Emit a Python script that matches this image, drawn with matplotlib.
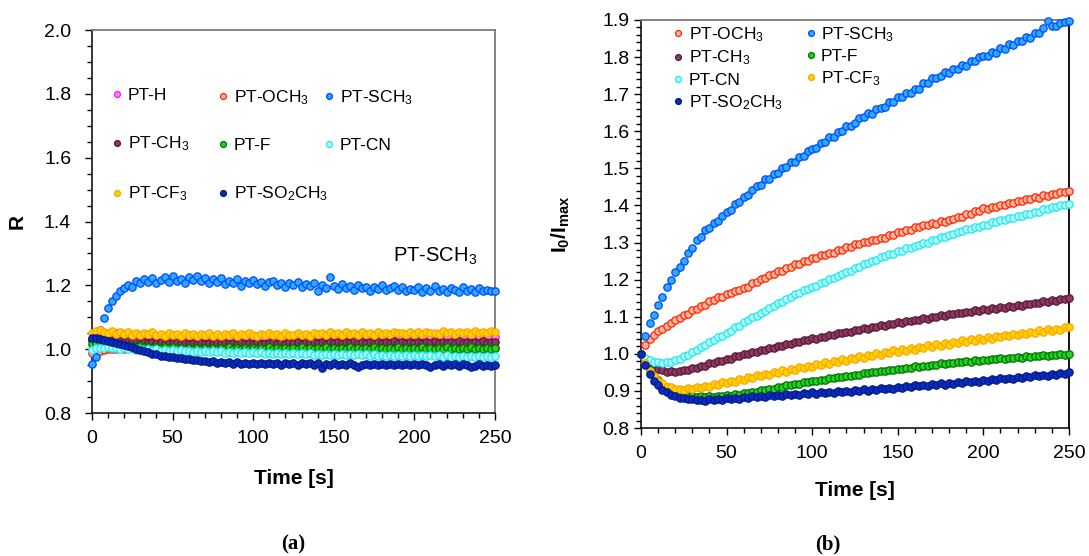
import numpy as np
import matplotlib
matplotlib.use("Agg")
import matplotlib.pyplot as plt
from matplotlib.legend import Legend
from matplotlib.ticker import MultipleLocator, FormatStrFormatter

plt.rcParams["font.family"] = ["Liberation Sans", "DejaVu Sans"]
plt.rcParams["mathtext.fontset"] = "custom"
plt.rcParams["mathtext.rm"] = "Liberation Sans"
plt.rcParams["mathtext.it"] = "Liberation Sans:italic"
plt.rcParams["mathtext.bf"] = "Liberation Sans:bold"

# sampling times, 2.5 s apart
time_s = np.arange(0, 250.01, 2.5)

# ---------------- (a) ratio R ----------------
r_h = [1.030, 1.036, 1.040, 1.043, 1.046, 1.049, 1.051, 1.050, 1.048, 1.046,
       1.044, 1.041, 1.043, 1.039, 1.042, 1.038, 1.041, 1.037, 1.040, 1.036,
       1.039, 1.035, 1.038, 1.034, 1.037, 1.033, 1.036, 1.034, 1.037, 1.033,
       1.036, 1.032, 1.035, 1.033, 1.036, 1.032, 1.035, 1.031, 1.034, 1.032,
       1.035, 1.031, 1.034, 1.032, 1.035, 1.031, 1.034, 1.032, 1.035, 1.031,
       1.034, 1.032, 1.035, 1.031, 1.034, 1.032, 1.036, 1.032, 1.035, 1.033,
       1.036, 1.032, 1.035, 1.033, 1.036, 1.032, 1.035, 1.034, 1.037, 1.033,
       1.036, 1.034, 1.037, 1.033, 1.036, 1.034, 1.037, 1.035, 1.038, 1.034,
       1.037, 1.035, 1.038, 1.034, 1.037, 1.035, 1.038, 1.036, 1.039, 1.035,
       1.038, 1.036, 1.039, 1.035, 1.038, 1.036, 1.039, 1.037, 1.040, 1.036,
       1.038]
r_och3 = [0.988, 0.992, 0.996, 0.998, 1.000, 1.002, 1.001, 1.003, 1.002, 1.004,
          1.003, 1.005, 1.004, 1.006, 1.003, 1.005, 1.004, 1.006, 1.003, 1.005,
          1.004, 1.006, 1.003, 1.005, 1.004, 1.006, 1.003, 1.005, 1.004, 1.006,
          1.005, 1.003, 1.006, 1.004, 1.005, 1.003, 1.006, 1.004, 1.005, 1.003,
          1.006, 1.004, 1.005, 1.003, 1.006, 1.004, 1.005, 1.003, 1.006, 1.004,
          1.005, 1.003, 1.006, 1.004, 1.005, 1.003, 1.006, 1.004, 1.005, 1.003,
          1.006, 1.004, 1.005, 1.003, 1.006, 1.004, 1.005, 1.003, 1.006, 1.004,
          1.005, 1.003, 1.006, 1.004, 1.005, 1.003, 1.006, 1.004, 1.005, 1.003,
          1.006, 1.004, 1.005, 1.003, 1.006, 1.004, 1.005, 1.003, 1.006, 1.004,
          1.005, 1.003, 1.006, 1.004, 1.005, 1.003, 1.006, 1.004, 1.005, 1.003,
          1.004]
r_sch3 = [0.955, 0.975, 1.060, 1.098, 1.128, 1.150, 1.168, 1.181, 1.192, 1.201,
          1.196, 1.214, 1.206, 1.219, 1.211, 1.224, 1.208, 1.217, 1.226, 1.212,
          1.228, 1.215, 1.221, 1.209, 1.225, 1.218, 1.230, 1.213, 1.222, 1.206,
          1.219, 1.211, 1.224, 1.203, 1.215, 1.208, 1.221, 1.199, 1.213, 1.206,
          1.217, 1.204, 1.212, 1.198, 1.210, 1.215, 1.201, 1.209, 1.196, 1.207,
          1.200, 1.212, 1.194, 1.205, 1.198, 1.208, 1.182, 1.201, 1.193, 1.226,
          1.197, 1.188, 1.204, 1.192, 1.199, 1.186, 1.202, 1.191, 1.195, 1.184,
          1.196, 1.189, 1.201, 1.185, 1.193, 1.198, 1.187, 1.194, 1.182, 1.190,
          1.186, 1.195, 1.180, 1.191, 1.184, 1.197, 1.182, 1.189, 1.178, 1.192,
          1.185, 1.180, 1.194, 1.183, 1.188, 1.179, 1.192, 1.184, 1.187, 1.181,
          1.183]
r_ch3 = [1.028, 1.031, 1.033, 1.030, 1.027, 1.029, 1.025, 1.027, 1.023, 1.026,
         1.022, 1.025, 1.021, 1.024, 1.020, 1.023, 1.019, 1.022, 1.018, 1.021,
         1.019, 1.022, 1.018, 1.021, 1.017, 1.020, 1.018, 1.021, 1.016, 1.020,
         1.017, 1.021, 1.018, 1.020, 1.016, 1.021, 1.018, 1.022, 1.017, 1.020,
         1.018, 1.022, 1.017, 1.021, 1.019, 1.023, 1.018, 1.021, 1.017, 1.022,
         1.019, 1.023, 1.018, 1.022, 1.020, 1.024, 1.019, 1.022, 1.018, 1.023,
         1.020, 1.024, 1.019, 1.023, 1.021, 1.025, 1.020, 1.023, 1.019, 1.024,
         1.021, 1.024, 1.020, 1.023, 1.021, 1.025, 1.019, 1.024, 1.020, 1.023,
         1.020, 1.024, 1.019, 1.023, 1.021, 1.025, 1.020, 1.024, 1.019, 1.023,
         1.021, 1.025, 1.020, 1.024, 1.019, 1.023, 1.021, 1.025, 1.020, 1.024,
         1.022]
r_f = [1.018, 1.020, 1.017, 1.015, 1.014, 1.012, 1.013, 1.010, 1.011, 1.009,
       1.010, 1.007, 1.009, 1.006, 1.008, 1.005, 1.007, 1.004, 1.006, 1.003,
       1.006, 1.003, 1.005, 1.002, 1.005, 1.001, 1.004, 1.002, 1.005, 1.001,
       1.004, 1.000, 1.005, 1.002, 1.006, 1.001, 1.004, 1.000, 1.005, 1.002,
       1.005, 1.001, 1.004, 1.000, 1.006, 1.002, 1.005, 1.001, 1.004, 1.000,
       1.005, 1.001, 1.006, 1.002, 1.004, 1.000, 1.005, 1.001, 1.006, 1.002,
       1.004, 1.000, 1.005, 1.001, 1.006, 1.002, 1.004, 1.000, 1.005, 1.001,
       1.006, 1.002, 1.004, 1.000, 1.005, 1.001, 1.006, 1.002, 1.004, 1.001,
       1.005, 1.001, 1.006, 1.002, 1.004, 1.000, 1.005, 1.001, 1.006, 1.002,
       1.004, 1.000, 1.005, 1.001, 1.006, 1.002, 1.004, 1.001, 1.005, 1.002,
       1.004]
r_cn = [0.998, 1.003, 1.005, 1.004, 1.006, 1.003, 1.005, 1.002, 1.004, 1.001,
        1.003, 0.999, 1.002, 0.998, 1.001, 0.997, 1.000, 0.996, 0.999, 0.995,
        0.998, 0.994, 0.997, 0.993, 0.996, 0.992, 0.995, 0.992, 0.994, 0.991,
        0.994, 0.990, 0.993, 0.989, 0.992, 0.989, 0.991, 0.988, 0.991, 0.987,
        0.990, 0.987, 0.990, 0.986, 0.989, 0.986, 0.989, 0.985, 0.988, 0.985,
        0.988, 0.984, 0.987, 0.984, 0.987, 0.983, 0.986, 0.983, 0.986, 0.982,
        0.986, 0.982, 0.985, 0.982, 0.985, 0.981, 0.984, 0.981, 0.984, 0.980,
        0.984, 0.980, 0.983, 0.980, 0.983, 0.979, 0.983, 0.979, 0.982, 0.979,
        0.982, 0.978, 0.982, 0.978, 0.981, 0.978, 0.981, 0.977, 0.981, 0.977,
        0.980, 0.977, 0.980, 0.976, 0.980, 0.977, 0.979, 0.976, 0.980, 0.976,
        0.979]
r_cf3 = [1.052, 1.058, 1.061, 1.055, 1.050, 1.056, 1.049, 1.054, 1.047, 1.053,
         1.046, 1.052, 1.044, 1.050, 1.047, 1.053, 1.045, 1.049, 1.043, 1.051,
         1.045, 1.049, 1.042, 1.050, 1.044, 1.048, 1.041, 1.047, 1.044, 1.050,
         1.043, 1.048, 1.042, 1.049, 1.045, 1.051, 1.043, 1.047, 1.044, 1.050,
         1.046, 1.042, 1.049, 1.044, 1.051, 1.045, 1.048, 1.043, 1.050, 1.046,
         1.044, 1.051, 1.046, 1.049, 1.043, 1.052, 1.047, 1.050, 1.045, 1.053,
         1.047, 1.051, 1.045, 1.053, 1.048, 1.050, 1.046, 1.054, 1.049, 1.052,
         1.046, 1.053, 1.049, 1.051, 1.047, 1.055, 1.050, 1.052, 1.048, 1.054,
         1.049, 1.053, 1.047, 1.055, 1.050, 1.052, 1.048, 1.056, 1.051, 1.053,
         1.049, 1.055, 1.051, 1.054, 1.048, 1.057, 1.052, 1.055, 1.050, 1.058,
         1.054]
r_so2ch3 = [1.036, 1.034, 1.031, 1.029, 1.026, 1.024, 1.019, 1.017, 1.013, 1.010,
            1.006, 1.001, 0.998, 0.993, 0.991, 0.986, 0.984, 0.980, 0.979, 0.975,
            0.976, 0.972, 0.973, 0.968, 0.970, 0.965, 0.967, 0.962, 0.964, 0.960,
            0.962, 0.958, 0.961, 0.956, 0.960, 0.955, 0.959, 0.954, 0.958, 0.955,
            0.958, 0.953, 0.957, 0.954, 0.958, 0.953, 0.957, 0.952, 0.956, 0.953,
            0.957, 0.952, 0.956, 0.953, 0.957, 0.952, 0.956, 0.942, 0.955, 0.952,
            0.956, 0.951, 0.955, 0.952, 0.956, 0.951, 0.944, 0.952, 0.955, 0.950,
            0.954, 0.951, 0.955, 0.950, 0.954, 0.951, 0.955, 0.950, 0.954, 0.951,
            0.955, 0.950, 0.954, 0.951, 0.943, 0.950, 0.954, 0.949, 0.953, 0.950,
            0.954, 0.949, 0.953, 0.950, 0.943, 0.949, 0.953, 0.948, 0.952, 0.949,
            0.951]

# ---------------- (b) I0/Imax ----------------
q_och3 = [1.000, 1.024, 1.041, 1.050, 1.061, 1.066, 1.076, 1.082, 1.091, 1.097,
          1.104, 1.107, 1.117, 1.120, 1.129, 1.132, 1.142, 1.144, 1.152, 1.154,
          1.162, 1.163, 1.170, 1.171, 1.178, 1.180, 1.190, 1.193, 1.202, 1.204,
          1.212, 1.214, 1.222, 1.224, 1.232, 1.234, 1.242, 1.243, 1.250, 1.250,
          1.257, 1.258, 1.265, 1.265, 1.272, 1.273, 1.280, 1.280, 1.287, 1.288,
          1.295, 1.295, 1.302, 1.301, 1.307, 1.306, 1.312, 1.313, 1.320, 1.320,
          1.327, 1.328, 1.335, 1.335, 1.342, 1.341, 1.347, 1.346, 1.352, 1.351,
          1.357, 1.356, 1.362, 1.363, 1.370, 1.370, 1.377, 1.378, 1.385, 1.385,
          1.392, 1.391, 1.397, 1.396, 1.402, 1.401, 1.407, 1.406, 1.412, 1.411,
          1.417, 1.416, 1.422, 1.421, 1.427, 1.426, 1.432, 1.431, 1.437, 1.436,
          1.440]
q_sch3 = [1.000, 1.048, 1.083, 1.104, 1.131, 1.152, 1.181, 1.198, 1.221, 1.233,
          1.249, 1.272, 1.286, 1.307, 1.316, 1.334, 1.338, 1.353, 1.358, 1.372,
          1.383, 1.387, 1.404, 1.408, 1.423, 1.427, 1.441, 1.452, 1.456, 1.470,
          1.472, 1.486, 1.488, 1.501, 1.503, 1.516, 1.518, 1.531, 1.533, 1.546,
          1.553, 1.555, 1.569, 1.570, 1.584, 1.585, 1.598, 1.600, 1.614, 1.615,
          1.622, 1.636, 1.638, 1.649, 1.647, 1.659, 1.663, 1.665, 1.679, 1.680,
          1.693, 1.692, 1.704, 1.702, 1.714, 1.715, 1.729, 1.730, 1.743, 1.744,
          1.748, 1.759, 1.758, 1.769, 1.768, 1.779, 1.777, 1.789, 1.788, 1.799,
          1.802, 1.803, 1.814, 1.812, 1.824, 1.822, 1.834, 1.832, 1.844, 1.843,
          1.853, 1.852, 1.864, 1.866, 1.879, 1.897, 1.884, 1.883, 1.892, 1.894,
          1.898]
q_ch3 = [1.000, 0.986, 0.974, 0.968, 0.959, 0.957, 0.952, 0.953, 0.951, 0.954,
         0.956, 0.956, 0.962, 0.962, 0.968, 0.968, 0.974, 0.974, 0.980, 0.981,
         0.987, 0.987, 0.993, 0.993, 0.999, 0.999, 1.005, 1.004, 1.010, 1.010,
         1.016, 1.016, 1.022, 1.021, 1.027, 1.026, 1.032, 1.031, 1.037, 1.036,
         1.042, 1.041, 1.046, 1.046, 1.051, 1.050, 1.056, 1.055, 1.060, 1.059,
         1.064, 1.063, 1.069, 1.068, 1.073, 1.072, 1.077, 1.076, 1.081, 1.080,
         1.085, 1.084, 1.089, 1.088, 1.092, 1.091, 1.096, 1.095, 1.100, 1.099,
         1.104, 1.103, 1.107, 1.106, 1.110, 1.109, 1.114, 1.112, 1.117, 1.116,
         1.120, 1.119, 1.123, 1.122, 1.126, 1.124, 1.129, 1.127, 1.132, 1.130,
         1.135, 1.134, 1.138, 1.137, 1.142, 1.140, 1.145, 1.143, 1.148, 1.147,
         1.150]
q_f = [1.000, 0.974, 0.956, 0.939, 0.929, 0.917, 0.911, 0.902, 0.898, 0.892,
       0.891, 0.887, 0.887, 0.884, 0.885, 0.883, 0.885, 0.883, 0.886, 0.885,
       0.888, 0.887, 0.891, 0.890, 0.894, 0.894, 0.898, 0.898, 0.902, 0.902,
       0.906, 0.906, 0.911, 0.911, 0.915, 0.915, 0.919, 0.919, 0.923, 0.923,
       0.927, 0.927, 0.930, 0.930, 0.934, 0.934, 0.938, 0.937, 0.941, 0.940,
       0.944, 0.944, 0.947, 0.947, 0.951, 0.950, 0.954, 0.953, 0.956, 0.956,
       0.960, 0.959, 0.962, 0.962, 0.966, 0.965, 0.968, 0.968, 0.971, 0.970,
       0.974, 0.973, 0.976, 0.975, 0.978, 0.977, 0.980, 0.979, 0.982, 0.981,
       0.984, 0.983, 0.986, 0.985, 0.988, 0.986, 0.989, 0.988, 0.991, 0.990,
       0.993, 0.992, 0.994, 0.993, 0.996, 0.995, 0.997, 0.996, 0.999, 0.998,
       1.000]
q_cn = [1.000, 0.989, 0.984, 0.977, 0.977, 0.974, 0.977, 0.977, 0.983, 0.986,
        0.993, 0.997, 1.006, 1.010, 1.019, 1.023, 1.031, 1.036, 1.044, 1.049,
        1.057, 1.062, 1.071, 1.076, 1.086, 1.090, 1.098, 1.103, 1.111, 1.115,
        1.123, 1.128, 1.136, 1.140, 1.148, 1.152, 1.161, 1.164, 1.171, 1.174,
        1.181, 1.184, 1.191, 1.194, 1.201, 1.204, 1.211, 1.214, 1.221, 1.224,
        1.231, 1.234, 1.241, 1.244, 1.251, 1.254, 1.261, 1.263, 1.269, 1.270,
        1.276, 1.278, 1.284, 1.286, 1.291, 1.293, 1.299, 1.300, 1.306, 1.308,
        1.314, 1.315, 1.321, 1.323, 1.329, 1.330, 1.336, 1.337, 1.342, 1.342,
        1.346, 1.348, 1.354, 1.355, 1.361, 1.361, 1.366, 1.366, 1.371, 1.371,
        1.376, 1.377, 1.381, 1.383, 1.389, 1.390, 1.396, 1.397, 1.401, 1.402,
        1.405]
q_cf3 = [1.000, 0.976, 0.953, 0.941, 0.926, 0.921, 0.911, 0.910, 0.904, 0.906,
         0.903, 0.908, 0.904, 0.911, 0.907, 0.914, 0.911, 0.918, 0.916, 0.923,
         0.920, 0.928, 0.925, 0.932, 0.930, 0.937, 0.935, 0.942, 0.939, 0.946,
         0.944, 0.951, 0.948, 0.956, 0.952, 0.960, 0.956, 0.964, 0.961, 0.968,
         0.965, 0.972, 0.969, 0.977, 0.973, 0.981, 0.977, 0.985, 0.980, 0.988,
         0.985, 0.993, 0.989, 0.997, 0.993, 1.002, 0.998, 1.006, 1.001, 1.010,
         1.004, 1.012, 1.008, 1.016, 1.011, 1.019, 1.015, 1.023, 1.019, 1.027,
         1.022, 1.030, 1.025, 1.033, 1.029, 1.036, 1.032, 1.040, 1.035, 1.043,
         1.038, 1.046, 1.041, 1.049, 1.044, 1.052, 1.047, 1.054, 1.050, 1.057,
         1.053, 1.060, 1.056, 1.063, 1.058, 1.066, 1.061, 1.068, 1.064, 1.072,
         1.072]
q_so2ch3 = [1.000, 0.969, 0.946, 0.927, 0.916, 0.903, 0.896, 0.888, 0.886, 0.881,
            0.881, 0.877, 0.878, 0.875, 0.876, 0.874, 0.877, 0.875, 0.878, 0.876,
            0.880, 0.878, 0.882, 0.879, 0.884, 0.881, 0.886, 0.883, 0.887, 0.884,
            0.889, 0.886, 0.890, 0.887, 0.892, 0.888, 0.893, 0.890, 0.894, 0.891,
            0.896, 0.893, 0.897, 0.894, 0.898, 0.895, 0.900, 0.896, 0.901, 0.898,
            0.903, 0.900, 0.904, 0.901, 0.906, 0.903, 0.908, 0.904, 0.909, 0.906,
            0.911, 0.908, 0.913, 0.910, 0.915, 0.912, 0.917, 0.913, 0.918, 0.915,
            0.920, 0.917, 0.922, 0.919, 0.924, 0.921, 0.926, 0.923, 0.928, 0.925,
            0.930, 0.927, 0.932, 0.929, 0.934, 0.931, 0.936, 0.933, 0.938, 0.935,
            0.940, 0.937, 0.942, 0.939, 0.944, 0.941, 0.946, 0.943, 0.948, 0.946,
            0.950]

names = ["H", "OCH3", "SCH3", "CH3", "F", "CN", "CF3", "SO2CH3"]
legend_text = {
    "H": "PT-H",
    "OCH3": "PT-OCH$_3$",
    "SCH3": "PT-SCH$_3$",
    "CH3": "PT-CH$_3$",
    "F": "PT-F",
    "CN": "PT-CN",
    "CF3": "PT-CF$_3$",
    "SO2CH3": "PT-SO$_2$CH$_3$",
}
# (face, edge)
colors = {
    "H": ("#ff88ff", "#ff10ff"),
    "OCH3": ("#ffb8a0", "#ff2400"),
    "SCH3": ("#2eaaff", "#0048ff"),
    "CH3": ("#8e3a60", "#5a1838"),
    "F": ("#22d422", "#007000"),
    "CN": ("#b4ffff", "#1ee6f0"),
    "CF3": ("#ffd400", "#ffa200"),
    "SO2CH3": ("#0a2cc0", "#001a86"),
}

panel_a = {"H": r_h, "OCH3": r_och3, "SCH3": r_sch3, "CH3": r_ch3,
           "F": r_f, "CN": r_cn, "CF3": r_cf3, "SO2CH3": r_so2ch3}
panel_b = {"OCH3": q_och3, "SCH3": q_sch3, "CH3": q_ch3, "F": q_f,
           "CN": q_cn, "CF3": q_cf3, "SO2CH3": q_so2ch3}

W, H = 1089, 556
fig = plt.figure(figsize=(W / 100, H / 100), dpi=100)
ax_a = fig.add_axes([0.0845, 0.257, 0.370, 0.689])
ax_b = fig.add_axes([0.5886, 0.2302, 0.393, 0.734])


def draw_series(ax, data):
    handles = {}
    for n in names:
        if n not in data:
            continue
        face, edge = colors[n]
        (ln,) = ax.plot(time_s, data[n], linestyle="none", marker="o",
                        markersize=5.3, markerfacecolor=face,
                        markeredgecolor=edge, markeredgewidth=0.9,
                        clip_on=False, zorder=3)
        handles[n] = ln
    return handles


def column_legend(ax, handles, keys, x, y, spacing):
    leg = Legend(ax, [handles[k] for k in keys],
                 [legend_text[k] for k in keys],
                 loc="upper left", bbox_to_anchor=(x, y),
                 bbox_transform=ax.transAxes,
                 frameon=False, fontsize=12.5, handlelength=0.5,
                 handletextpad=0.35, labelspacing=spacing, borderpad=0,
                 borderaxespad=0, markerscale=0.8)
    ax.add_artist(leg)


def style_axes(ax, ymin, ymax, ymajor, yminor, ypad, right_color):
    ax.set_xlim(0, 250)
    ax.set_ylim(ymin, ymax)
    ax.xaxis.set_major_locator(MultipleLocator(50))
    ax.xaxis.set_minor_locator(MultipleLocator(10))
    ax.yaxis.set_major_locator(MultipleLocator(ymajor))
    ax.yaxis.set_minor_locator(MultipleLocator(yminor))
    ax.yaxis.set_major_formatter(FormatStrFormatter("%.1f"))
    ax.tick_params(which="both", direction="out", top=False, right=False,
                   width=1.0, color="black")
    ax.tick_params(which="major", length=5, labelsize=14)
    ax.tick_params(which="minor", length=3.5)
    ax.tick_params(axis="x", which="major", pad=7)
    ax.tick_params(axis="y", which="major", pad=ypad)
    for side in ("left", "bottom"):
        ax.spines[side].set_color("black")
        ax.spines[side].set_linewidth(1.1)
    ax.spines["top"].set_color("#7a7a7a")
    ax.spines["top"].set_linewidth(1.3)
    ax.spines["right"].set_color(right_color)
    ax.spines["right"].set_linewidth(1.3)
    ax.set_xlabel("Time [s]", fontsize=15, fontweight="bold")


# (a)
ha = draw_series(ax_a, panel_a)
style_axes(ax_a, 0.8, 2.0, 0.2, 0.05, 10, "#7a7a7a")
ax_a.set_ylabel("R", fontsize=15, fontweight="bold")
ax_a.yaxis.set_label_coords(-0.162, 0.5)
ax_a.xaxis.set_label_coords(0.5, -0.146)
column_legend(ax_a, ha, ["H", "CH3", "CF3"], 0.052, 0.848, 1.8)
column_legend(ax_a, ha, ["OCH3", "F", "SO2CH3"], 0.315, 0.848, 1.8)
column_legend(ax_a, ha, ["SCH3", "CN"], 0.578, 0.848, 1.8)
ax_a.text(213, 1.29, "PT-SCH$_3$", fontsize=14.5, ha="center", va="center")

# (b)
hb = draw_series(ax_b, panel_b)
style_axes(ax_b, 0.8, 1.9, 0.1, 0.02, 3, "black")
ax_b.set_ylabel(r"$\mathbf{I_0/I_{max}}$", fontsize=15)
ax_b.yaxis.set_label_coords(-0.161, 0.5)
ax_b.xaxis.set_label_coords(0.5, -0.130)
column_legend(ax_b, hb, ["OCH3", "CH3", "CN", "SO2CH3"], 0.077, 0.988, 0.3)
column_legend(ax_b, hb, ["SCH3", "F", "CF3"], 0.386, 0.988, 0.3)

fig.text(0.269, 0.02, "(a)", fontsize=15, fontweight="bold",
         family=["Liberation Serif"], ha="center", va="center")
fig.text(0.760, 0.02, "(b)", fontsize=15, fontweight="bold",
         family=["Liberation Serif"], ha="center", va="center")

fig.savefig("out.png", dpi=100)
